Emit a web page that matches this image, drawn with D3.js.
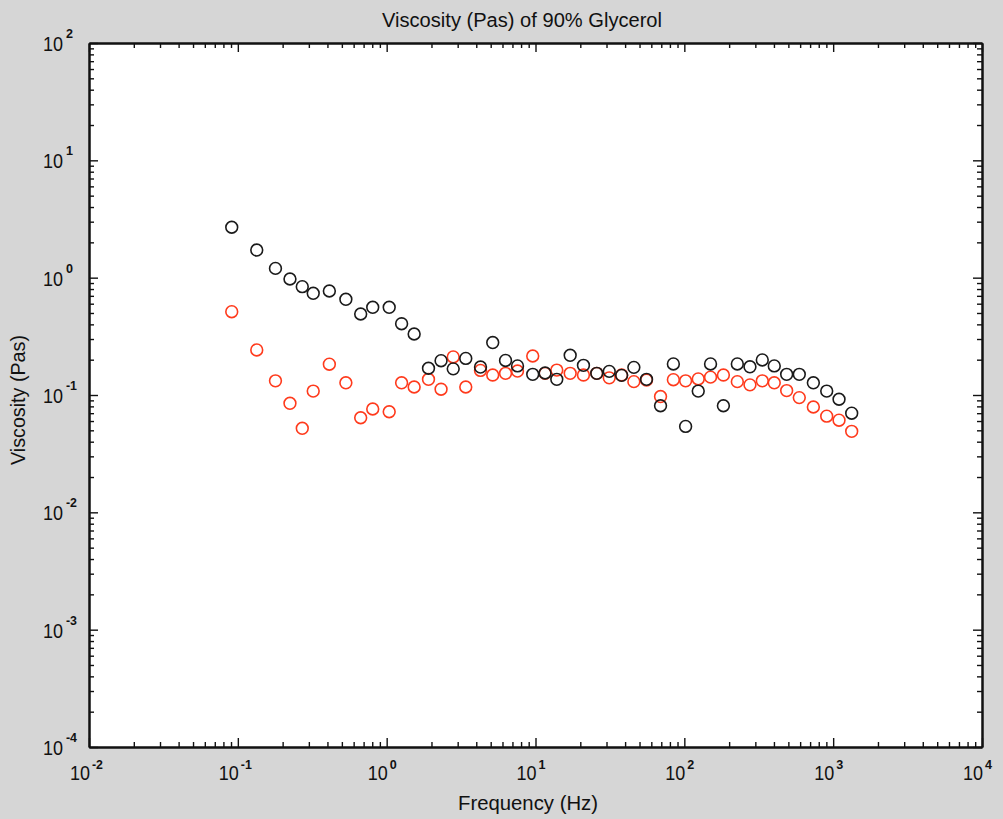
<!DOCTYPE html>
<html>
<head>
<meta charset="utf-8">
<script src="https://cdn.jsdelivr.net/npm/d3@7"></script>
<style>
  html, body { margin: 0; padding: 0; background: #d6d6d6; }
  svg { display: block; }
  text { font-family: "Liberation Sans", Arial, sans-serif; fill: #111; }
</style>
</head>
<body>
<svg id="chart" width="1003" height="819"></svg>
<script>
// Measurement frequencies (Hz)
const frequency = [0.091, 0.134, 0.179, 0.224, 0.271, 0.321, 0.412, 0.532, 0.669, 0.806,
  1.04, 1.26, 1.53, 1.91, 2.32, 2.80, 3.40, 4.27, 5.16, 6.29,
  7.57, 9.58, 11.6, 13.9, 17.1, 21.0, 25.8, 31.3, 37.9, 45.8,
  55.7, 69.2, 84.4, 102, 124, 150, 183, 227, 276, 334,
  402, 487, 592, 736, 905, 1095, 1332];

// Viscosity (Pa·s), first run (black markers)
const viscosityBlack = [2.69, 1.72, 1.20, 0.974, 0.838, 0.736, 0.770, 0.654, 0.490, 0.559,
  0.559, 0.405, 0.331, 0.169, 0.196, 0.167, 0.205, 0.173, 0.280, 0.197,
  0.177, 0.150, 0.154, 0.136, 0.218, 0.179, 0.153, 0.159, 0.147, 0.172,
  0.136, 0.081, 0.184, 0.054, 0.108, 0.184, 0.081, 0.184, 0.174, 0.199,
  0.177, 0.150, 0.150, 0.127, 0.108, 0.092, 0.070];

// Viscosity (Pa·s), second run (red markers)
const viscosityRed = [0.513, 0.242, 0.132, 0.085, 0.052, 0.108, 0.183, 0.127, 0.064, 0.076,
  0.072, 0.127, 0.117, 0.136, 0.112, 0.211, 0.117, 0.162, 0.148, 0.153,
  0.160, 0.215, 0.153, 0.163, 0.153, 0.148, 0.153, 0.140, 0.148, 0.130,
  0.134, 0.097, 0.135, 0.132, 0.137, 0.142, 0.148, 0.130, 0.122, 0.132,
  0.127, 0.109, 0.095, 0.079, 0.066, 0.061, 0.049];

// Decade tick exponents
const xExponents = ["-2", "-1", "0", "1", "2", "3", "4"];
const yExponents = ["-4", "-3", "-2", "-1", "0", "1", "2"];

const titleText = "Viscosity (Pas) of 90% Glycerol";
const xTitle = "Frequency (Hz)";
const yTitle = "Viscosity (Pas)";

const svg = d3.select("#chart");
const plotLeft = 89, plotRight = 982, plotTop = 43, plotBottom = 747;

const x = d3.scaleLog().domain([1e-2, 1e4]).range([plotLeft, plotRight]);
const y = d3.scaleLog().domain([1e-4, 1e2]).range([plotBottom, plotTop]);

// plot area
svg.append("rect")
  .attr("x", plotLeft).attr("y", plotTop)
  .attr("width", plotRight - plotLeft).attr("height", plotBottom - plotTop)
  .attr("fill", "#fff");

const xMajor = xExponents.map(e => Math.pow(10, +e));
const yMajor = yExponents.map(e => Math.pow(10, +e));
const xMinor = x.ticks().filter(v => !xMajor.some(m => Math.abs(m - v) / m < 1e-9));
const yMinor = y.ticks().filter(v => !yMajor.some(m => Math.abs(m - v) / m < 1e-9));

function styleAxis(g) {
  g.selectAll("text").remove();
  g.selectAll(".tick line").attr("stroke", "#111").attr("stroke-width", 1.4);
  g.select(".domain").attr("stroke", "#111").attr("stroke-width", 2);
}

// inward ticks on all four sides: minor then major
const axes = [
  [d3.axisBottom, `translate(0,${plotBottom})`, x, xMinor, xMajor],
  [d3.axisTop, `translate(0,${plotTop})`, x, xMinor, xMajor],
  [d3.axisLeft, `translate(${plotLeft},0)`, y, yMinor, yMajor],
  [d3.axisRight, `translate(${plotRight},0)`, y, yMinor, yMajor]
];
axes.forEach(([fn, tr, sc, minor, major]) => {
  svg.append("g").attr("transform", tr)
    .call(fn(sc).tickValues(minor).tickSizeInner(-5).tickSizeOuter(0))
    .call(styleAxis);
  svg.append("g").attr("transform", tr)
    .call(fn(sc).tickValues(major).tickSizeInner(-9).tickSizeOuter(0))
    .call(styleAxis);
});

// x tick labels: "10" ending at the tick, exponent raised after it
xExponents.forEach(e => {
  const px = x(Math.pow(10, +e));
  svg.append("text").attr("x", px + 1).attr("y", 780)
    .attr("text-anchor", "end").attr("font-size", 21)
    .attr("textLength", 20).attr("lengthAdjust", "spacingAndGlyphs").text("10");
  svg.append("text").attr("x", px + 3).attr("y", 769)
    .attr("font-size", 13).attr("font-weight", "bold")
    .attr("textLength", e.length > 1 ? 11 : 7).attr("lengthAdjust", "spacingAndGlyphs").text(e);
});

// y tick labels
yExponents.forEach(e => {
  const py = y(Math.pow(10, +e));
  svg.append("text").attr("x", 63).attr("y", py + 8)
    .attr("text-anchor", "end").attr("font-size", 21)
    .attr("textLength", 20).attr("lengthAdjust", "spacingAndGlyphs").text("10");
  svg.append("text").attr("x", 66).attr("y", py - 5)
    .attr("font-size", 13).attr("font-weight", "bold")
    .attr("textLength", e.length > 1 ? 11 : 7).attr("lengthAdjust", "spacingAndGlyphs").text(e);
});

// titles
svg.append("text").attr("x", 382).attr("y", 27).attr("font-size", 20)
  .attr("textLength", 280).attr("lengthAdjust", "spacingAndGlyphs").text(titleText);
svg.append("text").attr("x", 458).attr("y", 810).attr("font-size", 20)
  .attr("textLength", 140).attr("lengthAdjust", "spacingAndGlyphs").text(xTitle);
svg.append("text").attr("transform", "translate(25,465) rotate(-90)").attr("font-size", 20)
  .attr("textLength", 130).attr("lengthAdjust", "spacingAndGlyphs").text(yTitle);

// markers: red run underneath, black run on top
const series = [
  { values: viscosityRed, color: "#ff3a1c" },
  { values: viscosityBlack, color: "#1a1a1a" }
];
series.forEach(s => {
  svg.append("g").selectAll("circle")
    .data(frequency.map((f, i) => [f, s.values[i]]))
    .join("circle")
    .attr("cx", d => x(d[0]))
    .attr("cy", d => y(d[1]))
    .attr("r", 5.9)
    .attr("fill", "none")
    .attr("stroke", s.color)
    .attr("stroke-width", 1.6);
});
</script>
</body>
</html>
